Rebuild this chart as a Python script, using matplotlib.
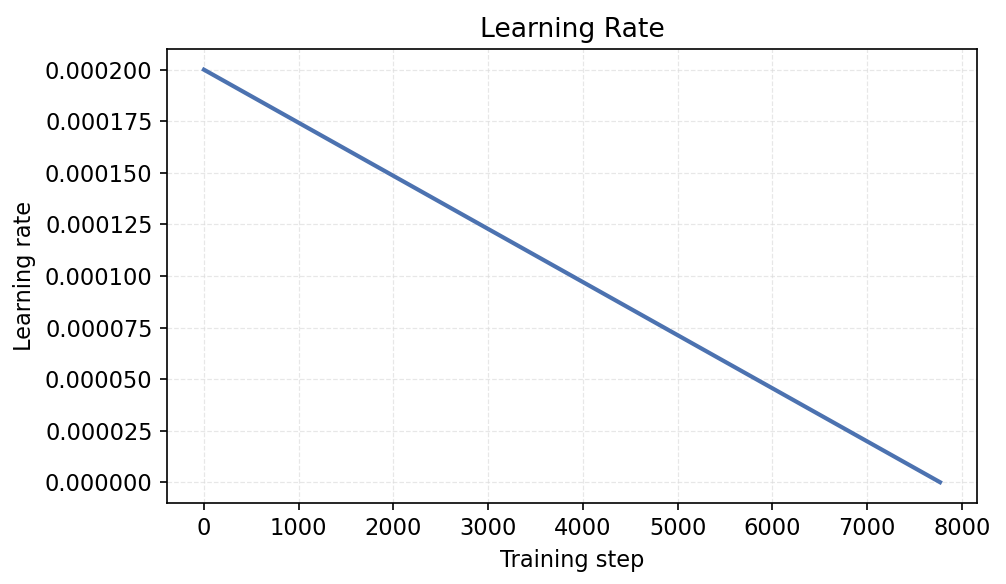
import numpy as np
import matplotlib
matplotlib.use("Agg")
import matplotlib.pyplot as plt

plt.rcParams["font.size"] = 10.8

# linear decay schedule
steps = [0, 7770]
learning_rates = [0.0002, 0.0]

fig, ax = plt.subplots(figsize=(1007 / 150, 584 / 150), dpi=150)
fig.subplots_adjust(left=0.166, right=0.970, top=0.916, bottom=0.139)

ax.plot(steps, learning_rates, color="#4C72B0", linewidth=2)
ax.grid(True, linestyle="--", color="#dddddd", linewidth=0.6, alpha=0.7)
ax.set_title("Learning Rate", fontsize=12.8)
ax.set_xlabel("Training step")
ax.set_ylabel("Learning rate")
ax.yaxis.set_major_formatter(matplotlib.ticker.FormatStrFormatter("%.6f"))

fig.savefig("out.png", dpi=150)
